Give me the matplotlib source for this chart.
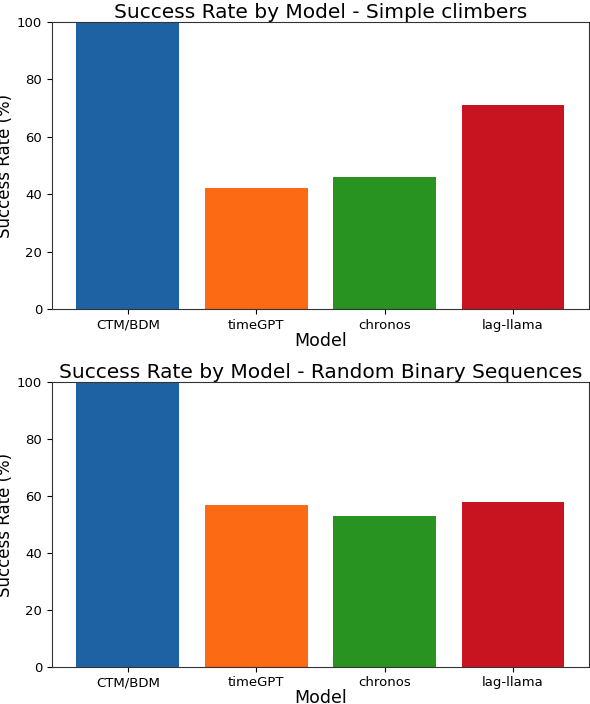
import matplotlib
matplotlib.use("Agg")
import matplotlib.pyplot as plt

models = ["CTM/BDM", "timeGPT", "chronos", "lag-llama"]
simple_climbers = [100, 42, 46, 71]
random_binary = [100, 57, 53, 58]
bar_colors = ["#1f62a3", "#fd6a14", "#289321", "#c81421"]

panels = [
    ("Success Rate by Model - Simple climbers", simple_climbers),
    ("Success Rate by Model - Random Binary Sequences", random_binary),
]

fig = plt.figure(figsize=(5.9, 7.04), dpi=100)
positions = [
    [0.088, 0.561, 0.910, 0.408],
    [0.088, 0.053, 0.910, 0.404],
]

for (title, values), pos in zip(panels, positions):
    ax = fig.add_axes(pos)
    ax.bar(models, values, color=bar_colors, width=0.8)
    ax.set_ylim(0, 100)
    ax.set_title(title, fontsize=14.5, pad=2)
    ax.set_xlabel("Model", fontsize=12.5, labelpad=0)
    ax.set_ylabel("Success Rate (%)", fontsize=12, labelpad=2)
    ax.tick_params(labelsize=9.5)
    for spine in ax.spines.values():
        spine.set_color("#333333")

fig.savefig("out.png", dpi=100)
